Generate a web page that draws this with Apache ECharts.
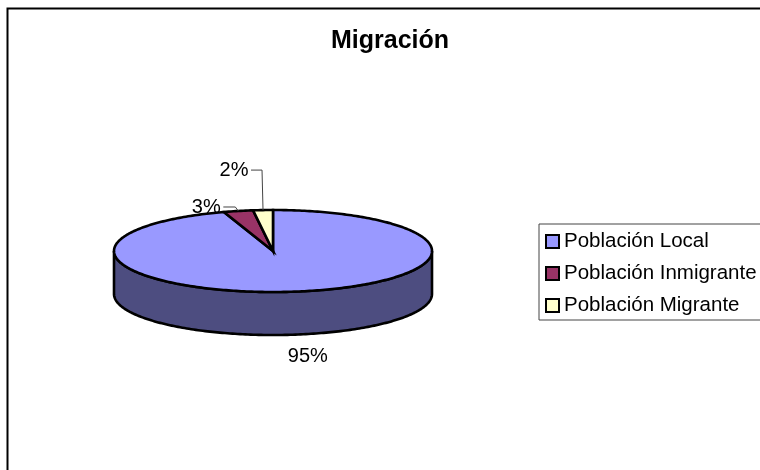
<!DOCTYPE html>
<html>
<head>
<meta charset="utf-8">
<script src="https://cdn.jsdelivr.net/npm/echarts@6/dist/echarts.min.js"></script>
<style>
  html, body { margin: 0; background: #fff; overflow: hidden; }
  #chart { width: 760px; height: 470px; }
</style>
</head>
<body>
<div id="chart"></div>
<script>
const categories = ['Población Local', 'Población Inmigrante', 'Población Migrante']
const values = [95, 3, 2]
const topColors = ['#9999FF', '#993366', '#FFFFCC']
const sideColors = ['#4D4D80', '#4D1A33', '#808066']

// 3d pie is faked: flat ellipse + wall below it
const cx = 273, cy = 251, rx = 159, ry = 41, depth = 43
const font = 'Liberation Sans'
const total = values.reduce((a, b) => a + b, 0)

// label position relative to slice middle on the rim
const labelOffset = [[10, 22], [-32, -4], [-29, -40]]
const leaders = [false, true, true]

const startOf = i => values.slice(0, i).reduce((a, b) => a + b, 0) / total * Math.PI * 2
const rim = (a, dy = 0) => [cx + rx * Math.sin(a), cy - ry * Math.cos(a) + dy]

const arcPoints = (a0, a1, dy) => {
  const steps = Math.max(4, Math.ceil((a1 - a0) * 60))
  const pts = []
  for (let s = 0; s <= steps; s++) pts.push(rim(a0 + (a1 - a0) * s / steps, dy))
  return pts
}

const renderSlice = (params, api) => {
  const i = params.seriesIndex
  const a0 = startOf(i)
  const a1 = a0 + api.value(0) / total * Math.PI * 2
  const mid = (a0 + a1) / 2
  const children = []

  // wall is only seen on the front half
  const w0 = Math.max(a0, Math.PI / 2), w1 = Math.min(a1, Math.PI * 1.5)
  if (w1 > w0) {
    children.push({
      type: 'polygon',
      shape: { points: arcPoints(w0, w1, 0).concat(arcPoints(w0, w1, depth).reverse()) },
      style: { fill: sideColors[i], stroke: '#000', lineWidth: 2.6 }
    })
  }
  children.push({
    type: 'polygon',
    shape: { points: [[cx, cy]].concat(arcPoints(a0, a1, 0)) },
    style: { fill: topColors[i], stroke: '#000', lineWidth: 2.6, lineJoin: 'miter' }
  })

  const base = rim(mid, i === 0 ? depth : 0)
  const lx = base[0] + labelOffset[i][0], ly = base[1] + labelOffset[i][1]
  if (leaders[i]) {
    const bendX = i === 2 ? base[0] - 1 : base[0] - 3
    children.push({
      type: 'polyline',
      shape: { points: [[lx + 17, ly], [bendX, ly], base] },
      style: { fill: null, stroke: '#444', lineWidth: 1 }
    })
  }
  children.push({
    type: 'text',
    style: {
      x: lx, y: ly, text: Math.round(api.value(0)) + '%',
      fill: '#000', font: '20px "' + font + '"', align: 'center', verticalAlign: 'middle'
    }
  })
  return { type: 'group', children }
}

const chart = echarts.init(document.getElementById('chart'), null, { renderer: 'canvas' })

chart.setOption({
  animation: false,
  backgroundColor: '#fff',
  title: {
    text: 'Migración',
    left: 385, top: 24, textAlign: 'center',
    textStyle: { fontFamily: font, fontSize: 25, fontWeight: 'bold', color: '#000' }
  },
  legend: {
    orient: 'vertical',
    left: 539, top: 224,
    padding: [7, 40, 4, 6],
    itemWidth: 13, itemHeight: 13, itemGap: 11,
    borderColor: '#444', borderWidth: 1,
    data: categories.map(name => ({ name, icon: 'rect' })),
    itemStyle: { borderColor: '#000', borderWidth: 2 },
    textStyle: { fontFamily: font, fontSize: 20.5, color: '#000' }
  },
  graphic: [{
    type: 'rect',
    silent: true,
    z: -1,
    shape: { x: 7.5, y: 8.5, width: 800, height: 500 },
    style: { fill: '#fff', stroke: '#000', lineWidth: 2 }
  }],
  series: categories.map((name, i) => ({
    type: 'custom',
    name,
    coordinateSystem: 'none',
    itemStyle: { color: topColors[i] },
    data: [[values[i]]],
    renderItem: renderSlice
  }))
})
</script>
</body>
</html>
